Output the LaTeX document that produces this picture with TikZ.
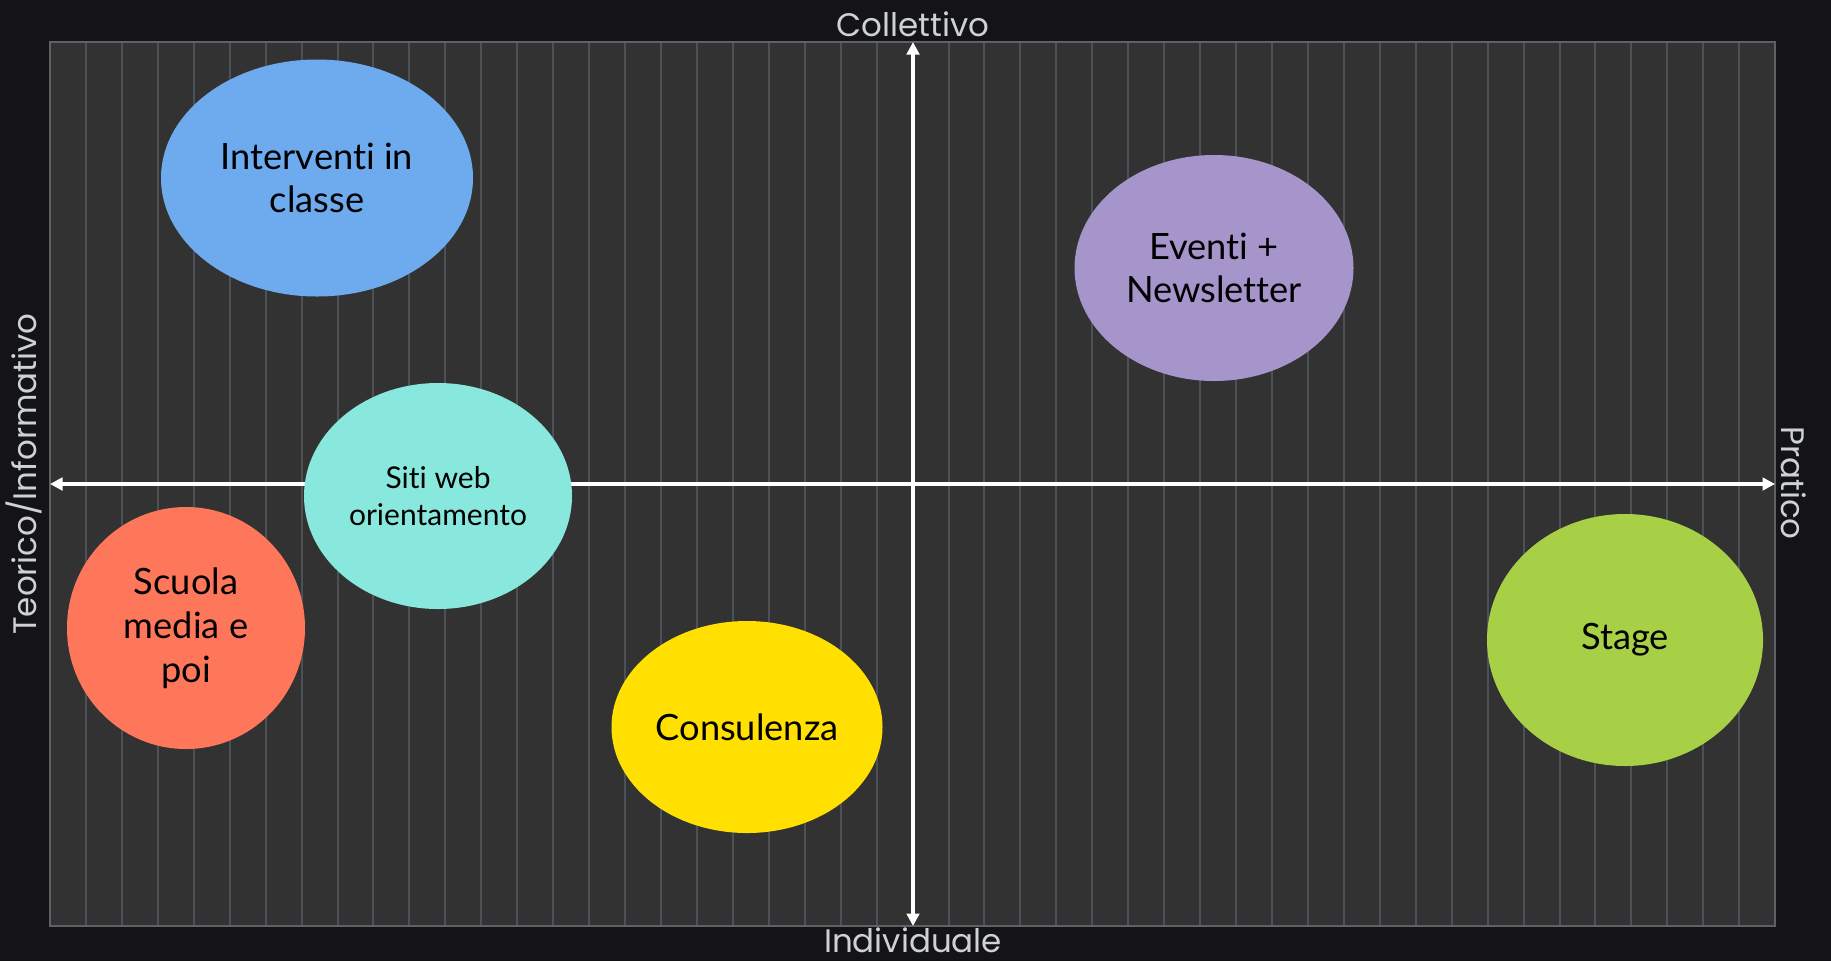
\documentclass[tikz,border=0pt]{standalone}
\usepackage{fontspec}
\setmainfont{Lato}[Ligatures=NoCommon]
\newfontfamily\axisfont{Poppins}
\usetikzlibrary{shapes.geometric,arrows.meta}

\definecolor{board}{HTML}{141416}
\definecolor{slate}{HTML}{323233}
\definecolor{gridline}{HTML}{4C5157}
\definecolor{chalk}{HTML}{CDD2D9}
\definecolor{bluefill}{HTML}{6DAAEE}
\definecolor{lilac}{HTML}{A695CA}
\definecolor{aqua}{HTML}{89E8DD}
\definecolor{coral}{HTML}{FF775A}
\definecolor{sun}{HTML}{FFE000}
\definecolor{lime}{HTML}{A7D046}

\tikzset{
  blob/.style={ellipse, inner sep=0pt, align=center, text=black, font=\fontsize{14.5}{17.5}\selectfont},
  axislabel/.style={text=chalk, font=\axisfont\fontsize{13}{15}\selectfont, inner sep=0pt},
  axisline/.style={draw=white, line width=1.6pt, {Triangle[length=5pt,width=5pt]}-{Triangle[length=5pt,width=5pt]}}
}

\begin{document}
\begin{tikzpicture}[x=0.4pt, y=-0.4pt]
\useasboundingbox (0,0) rectangle (1831,961);
\fill[board] (0,0) rectangle (1831,961);
\fill[slate] (50,42) rectangle (1775,926);

% vertical lines of the board
\foreach \k in {1,...,47} {
  \draw[gridline, line width=0.8pt] (50+\k*35.94,42) -- (50+\k*35.94,926);
}
\draw[gridline!90!white, line width=0.8pt] (50,42) rectangle (1775,926);

\coordinate (W) at (50,484);
\coordinate (E) at (1775,484);
\coordinate (N) at (913,42);
\coordinate (S) at (913,926);
\draw[axisline] (W) -- (E);
\draw[axisline] (S) -- (N);

\node[axislabel] (coll) at (913,24) {Collettivo};
\node[axislabel] (indiv) at (913,940) {Individuale};
\node[axislabel, rotate=90] (teor) at (24,474) {Teorico/Informativo};
\node[axislabel, rotate=-90] (prat) at (1794,483) {Pratico};

\node[blob, fill=bluefill, minimum width=124.8pt, minimum height=94.8pt] (interv) at (317,178) {Interventi in\\classe};
\node[blob, fill=lilac, minimum width=111.6pt, minimum height=90.4pt] (eventi) at (1214,268) {Eventi +\\Newsletter};
\node[blob, fill=aqua, minimum width=107.2pt, minimum height=90.4pt, font=\fontsize{12}{14.5}\selectfont] (siti) at (438,496) {Siti web\\orientamento};
\node[blob, fill=coral, minimum width=95.2pt, minimum height=96.8pt] (scuola) at (186,628) {Scuola\\media e\\poi};
\node[blob, fill=sun, minimum width=108.4pt, minimum height=84.8pt] (consul) at (747,727) {Consulenza};
\node[blob, fill=lime, minimum width=110.4pt, minimum height=100.8pt] (stage) at (1625,640) {Stage};

\end{tikzpicture}
\end{document}
